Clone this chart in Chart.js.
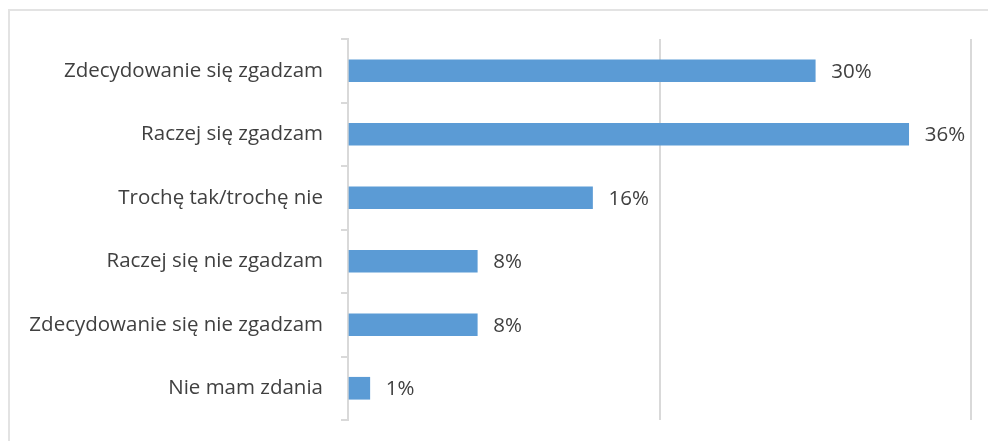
<!DOCTYPE html>
<html>
<head>
<meta charset="utf-8">
<script src="https://cdn.jsdelivr.net/npm/chart.js@4/dist/chart.umd.min.js"></script>
<style>
  html, body { margin: 0; padding: 0; background: #fff; }
  #wrap { position: relative; width: 988px; height: 441px; overflow: hidden; }
  #frame { position: absolute; left: 8px; top: 9px; width: 990px; height: 460px; border: 2px solid #e3e3e3; box-sizing: border-box; }
  canvas { position: absolute; left: 0; top: 0; }
</style>
</head>
<body>
<div id="wrap">
  <div id="frame"></div>
  <canvas id="barChart" width="988" height="441"></canvas>
</div>
<script>
const categories = [
  'Zdecydowanie się zgadzam',
  'Raczej się zgadzam',
  'Trochę tak/trochę nie',
  'Raczej się nie zgadzam',
  'Zdecydowanie się nie zgadzam',
  'Nie mam zdania'
];
// bar lengths; labels show them rounded
const shares = [30, 36, 15.7, 8.3, 8.3, 1.4];
const axisTicks = [0, 20, 40];

/* value labels at the end of each bar */
const valueLabels = {
  id: 'valueLabels',
  afterDatasetsDraw(chart) {
    const ctx = chart.ctx;
    const meta = chart.getDatasetMeta(0);
    ctx.save();
    ctx.font = '20.5px "Open Sans", sans-serif';
    ctx.fillStyle = '#404040';
    ctx.textBaseline = 'middle';
    meta.data.forEach((bar, i) => {
      ctx.fillText(Math.round(shares[i]) + '%', bar.x + 16, bar.y + 1);
    });
    ctx.restore();
  }
};

new Chart(document.getElementById('barChart'), {
  type: 'bar',
  data: {
    labels: categories,
    datasets: [{
      data: shares,
      backgroundColor: '#5b9bd5',
      borderWidth: 0,
      barThickness: 22
    }]
  },
  options: {
    indexAxis: 'y',
    responsive: false,
    animation: false,
    layout: { padding: { top: 39, right: 17, bottom: 21, left: 0 } },
    plugins: {
      legend: { display: false },
      tooltip: { enabled: false }
    },
    scales: {
      x: {
        min: 0,
        max: 40,
        afterBuildTicks(scale) {
          scale.ticks = axisTicks.map(v => ({ value: v }));
        },
        afterFit(scale) { scale.height = 0; },
        ticks: { display: false },
        border: { display: false },
        grid: { color: '#d9d9d9', lineWidth: 2, drawTicks: false }
      },
      y: {
        afterFit(scale) {
          scale.width = 348;
          scale.paddingTop = 0;
          scale.paddingBottom = 0;
        },
        ticks: {
          color: '#404040',
          padding: 18,
          font: { family: '"Open Sans", sans-serif', size: 20.5 }
        },
        border: { display: true, color: '#d9d9d9', width: 2 },
        grid: {
          drawOnChartArea: false,
          drawTicks: true,
          tickLength: 7,
          color: '#d9d9d9',
          lineWidth: 2
        }
      }
    }
  },
  plugins: [valueLabels]
});
</script>
</body>
</html>
